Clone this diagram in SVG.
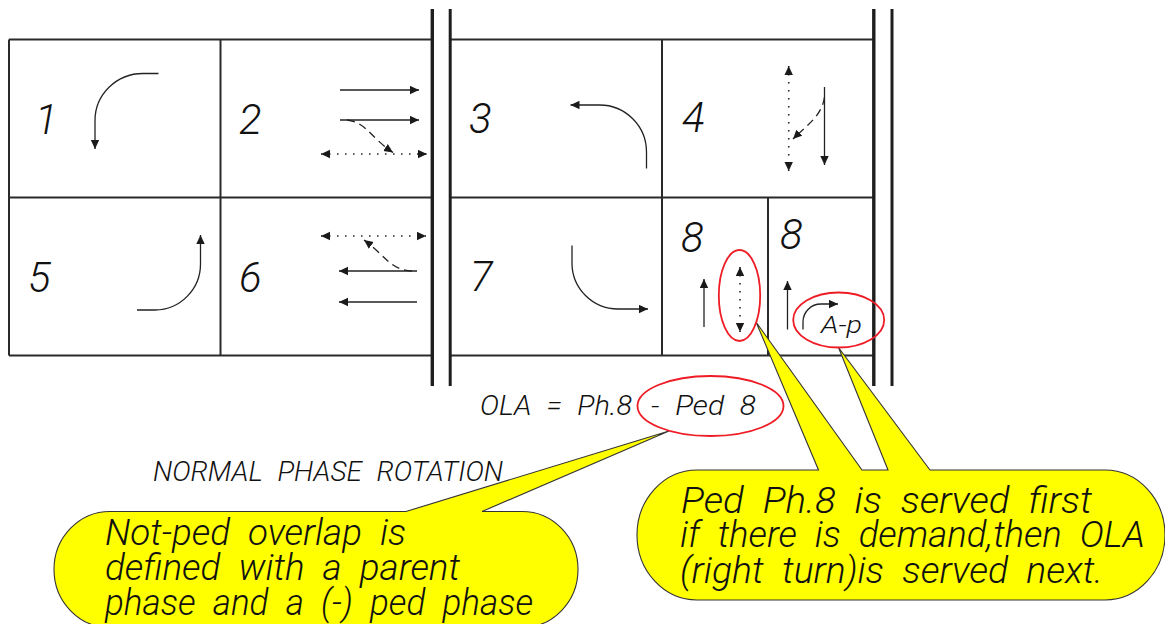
<svg xmlns="http://www.w3.org/2000/svg" width="1165" height="624" viewBox="0 0 1165 624">
<style>
text{font-family:Roboto,"Liberation Sans",sans-serif;font-style:italic;font-weight:300;fill:#111}
.d{font-size:42px}
.s{font-size:28px;word-spacing:8px}
.c{font-size:36px;word-spacing:9px}
.t{fill:none;stroke:#2a2a2a;stroke-width:2}
.b{fill:none;stroke:#1e1e1e}
.a{fill:none;stroke:#222;stroke-width:1.3}
.ar{marker-end:url(#h)}
.dot{stroke-dasharray:1.5 6.5;marker-start:url(#h);marker-end:url(#h);stroke-width:1.6}
.dash{stroke-dasharray:8 5;marker-end:url(#h)}
.r{fill:none;stroke:#ee1c25;stroke-width:1.8}
.y{fill:#ffff00;stroke:#333;stroke-width:1.1}
</style>
<defs>
<marker id="h" markerUnits="userSpaceOnUse" markerWidth="10" markerHeight="10" refX="9" refY="4.5" orient="auto-start-reverse"><path d="M0,0.3L9,4.5L0,8.7Z" fill="#1a1a1a"/></marker>
</defs>
<g id="table">
<path class="t" d="M9,39.5H432M450,39.5H874M9,197.5H432M450,197.5H874M9,355.5H432M450,355.5H874M9,39.5V355.5M220.5,39.5V355.5M662,39.5V355.5M768,197.5V355.5"/>
<path class="b" d="M432.3,9V386M873.8,9V386" style="stroke-width:3.4"/>
<path class="b" d="M450.2,9V386M892,9V386" style="stroke-width:3"/>
</g>
<g id="connectors">
<path class="a ar" d="M158.5,73.5H143A48,47 0 0 0 95,120.5V149"/>
<path class="a ar" d="M340,90H419"/>
<path class="a ar" d="M340,120H419"/>
<path class="a dash" d="M347,120C366,122 371,138 393,152.500"/>
<path class="a dot" d="M321,154H427"/>
<path class="a ar" d="M137,310H155A46,46 0 0 0 200.500,264V235"/>
<path class="a dot" d="M321,236H426"/>
<path class="a ar" d="M417,271H339"/>
<path class="a dash" d="M412,271C390,270 386,256 364,240"/>
<path class="a ar" d="M417,302H339"/>
<path class="a ar" d="M646.500,168.500V152A47,47 0 0 0 599.500,105H570.500"/>
<path class="a dot" d="M788.700,66V171"/>
<path class="a ar" d="M824.500,87V165"/>
<path class="a dash" d="M824.500,97C822,116 806,126 793,139"/>
<path class="a ar" d="M572,245.500V263A46,46 0 0 0 618,309H648"/>
<path class="a ar" d="M704,327V279"/>
<path class="a dot" d="M740,267V332"/>
<path class="a ar" d="M787.500,329.500V281"/>
<path class="a ar" d="M803,329.500V322A18,18 0 0 1 821,304H838"/>
</g>
<g id="phase-1"><text class="d" x="35" y="134">1</text></g>
<g id="phase-2"><text class="d" x="239" y="134">2</text></g>
<g id="phase-3"><text class="d" x="469" y="133">3</text></g>
<g id="phase-4"><text class="d" x="682" y="132">4</text></g>
<g id="phase-5"><text class="d" x="28" y="292">5</text></g>
<g id="phase-6"><text class="d" x="239" y="292">6</text></g>
<g id="phase-7"><text class="d" x="470" y="291">7</text></g>
<g id="phase-8-ped"><text class="d" x="681" y="252">8</text></g>
<g id="phase-8-ola"><text class="d" x="780" y="249">8</text><text x="821" y="333" font-size="23" textLength="41" lengthAdjust="spacingAndGlyphs">A-p</text></g>
<g id="labels">
<text class="s" x="480" y="415" textLength="152" lengthAdjust="spacingAndGlyphs">OLA = Ph.8</text>
<text class="s" x="651" y="415" textLength="105" lengthAdjust="spacingAndGlyphs">- Ped 8</text>
<text class="s" x="153" y="481" textLength="350" lengthAdjust="spacingAndGlyphs">NORMAL PHASE ROTATION</text>
</g>
<g id="callout-not-ped">
<path class="y" d="M110,511.500H406L669,431L482,511.500H522A56,58 0 0 1 578,569.500A56,58 0 0 1 522,627.500H110A56,58 0 0 1 54,569.500A56,58 0 0 1 110,511.500Z"/>
<text class="c" x="105" y="545" textLength="301" lengthAdjust="spacingAndGlyphs">Not-ped overlap is</text>
<text class="c" x="105" y="580" textLength="355" lengthAdjust="spacingAndGlyphs">defined with a parent</text>
<text class="c" x="105" y="615" textLength="428" lengthAdjust="spacingAndGlyphs">phase and a (-) ped phase</text>
</g>
<g id="callout-ped-first">
<path class="y" d="M697,470H818.500L756,322L862,470H888L838.500,347.500L930,470H1105A60,65 0 0 1 1165,535A60,65 0 0 1 1105,600H697A60,65 0 0 1 637,535A60,65 0 0 1 697,470Z"/>
<text class="c" x="681" y="513" textLength="411" lengthAdjust="spacingAndGlyphs">Ped Ph.8 is served first</text>
<text class="c" x="680" y="547" textLength="465" lengthAdjust="spacingAndGlyphs">if there is demand,then OLA</text>
<text class="c" x="680" y="583" textLength="423" lengthAdjust="spacingAndGlyphs">(right turn)is served next.</text>
</g>
<g id="highlights">
<ellipse class="r" cx="739.500" cy="295.500" rx="20.700" ry="45.500"/>
<ellipse class="r" cx="838.700" cy="320" rx="45.500" ry="27.500"/>
<ellipse class="r" cx="710.500" cy="406" rx="73" ry="30"/>
</g>
</svg>
